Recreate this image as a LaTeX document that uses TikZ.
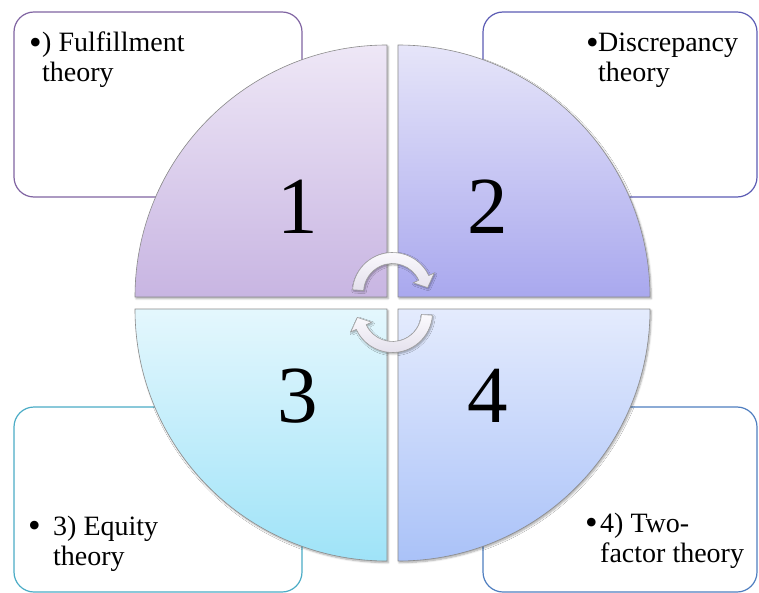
\documentclass[tikz,border=0pt]{standalone}
\usepackage{fontspec}
\setmainfont{Liberation Serif}
\usetikzlibrary{shadows.blur}

\definecolor{boxA}{HTML}{8064A2}
\definecolor{boxB}{HTML}{5C5CB4}
\definecolor{boxC}{HTML}{4BACC6}
\definecolor{boxD}{HTML}{4F7EC0}
\definecolor{qAtop}{HTML}{EEE7F6}
\definecolor{qAbot}{HTML}{C8B5E2}
\definecolor{qBtop}{HTML}{E6E5F9}
\definecolor{qBbot}{HTML}{A9A8EE}
\definecolor{qCtop}{HTML}{E4F7FD}
\definecolor{qCbot}{HTML}{9FE3F8}
\definecolor{qDtop}{HTML}{E4EBFD}
\definecolor{qDbot}{HTML}{AAC2F8}
\definecolor{arrtop}{HTML}{FBFAFD}
\definecolor{arrbot}{HTML}{E4E0EC}

\begin{document}
\begin{tikzpicture}[x=1pt,y=-1pt,
  infobox/.style={rounded corners=20pt, line width=1.2pt, fill=white},
  quad/.style={draw=black!45, line width=0.6pt,
    blur shadow={shadow xshift=1.2pt, shadow yshift=-1.6pt,
                 shadow opacity=35, shadow blur steps=6}},
  cyclearrow/.style={draw=black!38, line width=0.6pt,
    top color=arrtop, bottom color=arrbot,
    blur shadow={shadow xshift=1pt, shadow yshift=-1.4pt,
                 shadow opacity=35, shadow blur steps=5}},
  numlabel/.style={font=\fontsize{81}{81}\selectfont, inner sep=0pt},
  bodytext/.style={font=\fontsize{28}{30}\selectfont, align=left,
    inner sep=0pt, anchor=base west},
  bulletmark/.style={font=\fontsize{36}{36}\selectfont, inner sep=0pt,
    anchor=base west},
]
\useasboundingbox (0,0) rectangle (759,593);

% text panels behind the circle
\draw[infobox, draw=boxA] (14,12) rectangle (302,197);
\draw[infobox, draw=boxB] (483,12) rectangle (757,197);
\draw[infobox, draw=boxC] (14,407) rectangle (302,592);
\draw[infobox, draw=boxD] (483,407) rectangle (757,592);

% the four quarter discs
\coordinate (c1) at (387,297);
\coordinate (c2) at (398,297);
\coordinate (c3) at (387,309);
\coordinate (c4) at (398,309);
\shade[quad, top color=qAtop, bottom color=qAbot]
  (c1) -- ++(-252,0) arc[start angle=180, end angle=270, radius=252] -- cycle;
\shade[quad, top color=qBtop, bottom color=qBbot]
  (c2) -- ++(0,-252) arc[start angle=270, end angle=360, radius=252] -- cycle;
\shade[quad, top color=qCtop, bottom color=qCbot]
  (c3) -- ++(-252,0) arc[start angle=180, end angle=90, radius=252] -- cycle;
\shade[quad, top color=qDtop, bottom color=qDbot]
  (c4) -- ++(252,0) arc[start angle=0, end angle=90, radius=252] -- cycle;

% numbers
\node[numlabel] (n1) at (298,207) {1};
\node[numlabel] (n2) at (488,207) {2};
\node[numlabel] (n3) at (298,396) {3};
\node[numlabel] (n4) at (488,396) {4};

% circular arrows in the middle (upper one clockwise over the top,
% lower one the same shape turned half a turn)
\coordinate (ta) at (392.5,292.5);
\coordinate (tb) at (392.5,312.5);
\shade[cyclearrow]
  ([shift={(184:40)}]ta) arc[start angle=184, end angle=335, radius=40]
  -- ([shift={(335:46)}]ta) -- ([shift={(352:35.5)}]ta)
  -- ([shift={(335:23)}]ta) -- ([shift={(335:29)}]ta)
  arc[start angle=335, end angle=184, radius=29] -- cycle;
\shade[cyclearrow]
  ([shift={(4:40)}]tb) arc[start angle=4, end angle=155, radius=40]
  -- ([shift={(155:46)}]tb) -- ([shift={(172:35.5)}]tb)
  -- ([shift={(155:23)}]tb) -- ([shift={(155:29)}]tb)
  arc[start angle=155, end angle=4, radius=29] -- cycle;

% panel texts (node base = baseline of the last line)
\node[bulletmark] (b1) at (29,54.5) {•};
\node[bodytext] (t1) at (42,82) {) Fulfillment\\theory};
\node[bulletmark] (b2) at (586,54.5) {•};
\node[bodytext] (t2) at (598,82) {Discrepancy\\theory};
\node[bulletmark] (b3) at (28,537.5) {•};
\node[bodytext] (t3) at (53,565) {3) Equity\\theory};
\node[bulletmark] (b4) at (585,534.5) {•};
\node[bodytext] (t4) at (600,562) {4) Two-\\factor theory};
\end{tikzpicture}
\end{document}
